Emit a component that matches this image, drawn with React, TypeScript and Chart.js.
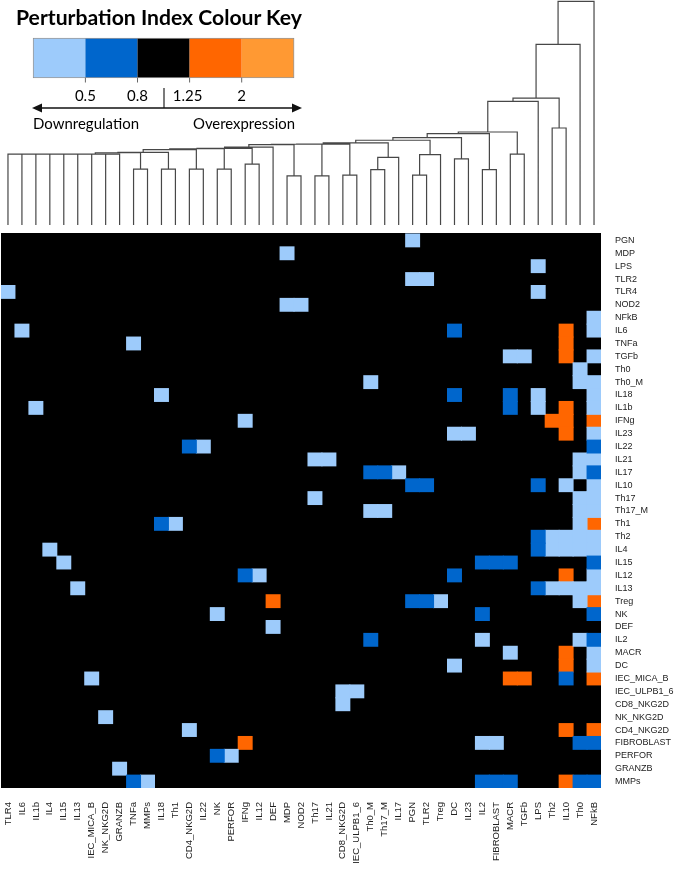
import React, { useEffect, useRef } from "react";
import { Chart, registerables } from "chart.js";

Chart.register(...registerables);

// ---------- DATA ----------
const colLabels: string[] = [
  "TLR4", "IL6", "IL1b", "IL4", "IL15", "IL13", "IEC_MICA_B", "NK_NKG2D", "GRANZB", "TNFa", "MMPs",
  "IL18", "Th1", "CD4_NKG2D", "IL22", "NK", "PERFOR", "IFNg", "IL12", "DEF", "MDP", "NOD2", "Th17",
  "IL21", "CD8_NKG2D", "IEC_ULPB1_6", "Th0_M", "Th17_M", "IL17", "PGN", "TLR2", "Treg", "DC", "IL23",
  "IL2", "FIBROBLAST", "MACR", "TGFb", "LPS", "Th2", "IL10", "Th0", "NFkB",
];

const rowLabels: string[] = [
  "PGN", "MDP", "LPS", "TLR2", "TLR4", "NOD2", "NFkB", "IL6", "TNFa", "TGFb", "Th0", "Th0_M", "IL18",
  "IL1b", "IFNg", "IL23", "IL22", "IL21", "IL17", "IL10", "Th17", "Th17_M", "Th1", "Th2", "IL4", "IL15",
  "IL12", "IL13", "Treg", "NK", "DEF", "IL2", "MACR", "DC", "IEC_MICA_B", "IEC_ULPB1_6", "CD8_NKG2D",
  "NK_NKG2D", "CD4_NKG2D", "FIBROBLAST", "PERFOR", "GRANZB", "MMPs",
];

// [row, column] cells with Perturbation Index 0.5 - 0.8 (light blue)
const lightBlueCells: [string, string][] = [
  ["PGN", "PGN"], ["MDP", "MDP"], ["LPS", "LPS"], ["TLR2", "PGN"], ["TLR2", "TLR2"], ["TLR4", "TLR4"],
  ["TLR4", "LPS"], ["NOD2", "MDP"], ["NOD2", "NOD2"], ["NFkB", "NFkB"], ["IL6", "IL6"], ["IL6", "NFkB"],
  ["TNFa", "TNFa"], ["TGFb", "MACR"], ["TGFb", "TGFb"], ["TGFb", "NFkB"], ["Th0", "Th0"],
  ["Th0_M", "Th0_M"], ["Th0_M", "Th0"], ["Th0_M", "NFkB"], ["IL18", "IL18"], ["IL18", "LPS"],
  ["IL18", "NFkB"], ["IL1b", "IL1b"], ["IL1b", "LPS"], ["IL1b", "NFkB"], ["IFNg", "IFNg"],
  ["IL23", "DC"], ["IL23", "IL23"], ["IL23", "NFkB"], ["IL22", "IL22"], ["IL21", "Th17"],
  ["IL21", "IL21"], ["IL21", "Th0"], ["IL21", "NFkB"], ["IL17", "IL17"], ["IL17", "Th0"],
  ["IL10", "IL10"], ["IL10", "NFkB"], ["Th17", "Th17"], ["Th17", "Th0"], ["Th17", "NFkB"],
  ["Th17_M", "Th0_M"], ["Th17_M", "Th17_M"], ["Th17_M", "Th0"], ["Th17_M", "NFkB"], ["Th1", "Th1"],
  ["Th1", "Th0"], ["Th2", "Th2"], ["Th2", "IL10"], ["Th2", "Th0"], ["Th2", "NFkB"], ["IL4", "IL4"],
  ["IL4", "Th2"], ["IL4", "IL10"], ["IL4", "Th0"], ["IL4", "NFkB"], ["IL15", "IL15"], ["IL12", "IL12"],
  ["IL12", "NFkB"], ["IL13", "IL13"], ["IL13", "Th2"], ["IL13", "IL10"], ["IL13", "Th0"],
  ["IL13", "NFkB"], ["Treg", "Treg"], ["Treg", "Th0"], ["NK", "NK"], ["DEF", "DEF"], ["IL2", "IL2"],
  ["IL2", "Th0"], ["MACR", "MACR"], ["MACR", "NFkB"], ["DC", "DC"], ["DC", "NFkB"],
  ["IEC_MICA_B", "IEC_MICA_B"], ["IEC_ULPB1_6", "CD8_NKG2D"], ["IEC_ULPB1_6", "IEC_ULPB1_6"],
  ["CD8_NKG2D", "CD8_NKG2D"], ["NK_NKG2D", "NK_NKG2D"], ["CD4_NKG2D", "CD4_NKG2D"],
  ["FIBROBLAST", "IL2"], ["FIBROBLAST", "FIBROBLAST"], ["PERFOR", "PERFOR"], ["GRANZB", "GRANZB"],
  ["MMPs", "MMPs"],
];

// [row, column] cells with Perturbation Index < 0.5 (dark blue)
const darkBlueCells: [string, string][] = [
  ["IL6", "DC"], ["IL18", "DC"], ["IL18", "MACR"], ["IL1b", "MACR"], ["IL22", "CD4_NKG2D"],
  ["IL22", "NFkB"], ["IL17", "Th0_M"], ["IL17", "Th17_M"], ["IL17", "NFkB"], ["IL10", "PGN"],
  ["IL10", "TLR2"], ["IL10", "LPS"], ["Th1", "IL18"], ["Th2", "LPS"], ["IL4", "LPS"], ["IL15", "IL2"],
  ["IL15", "FIBROBLAST"], ["IL15", "MACR"], ["IL15", "NFkB"], ["IL12", "IFNg"], ["IL12", "DC"],
  ["IL13", "LPS"], ["Treg", "PGN"], ["Treg", "TLR2"], ["NK", "IL2"], ["NK", "NFkB"], ["IL2", "Th0_M"],
  ["IL2", "NFkB"], ["IEC_MICA_B", "IL10"], ["FIBROBLAST", "Th0"], ["FIBROBLAST", "NFkB"],
  ["PERFOR", "NK"], ["MMPs", "TNFa"], ["MMPs", "IL2"], ["MMPs", "FIBROBLAST"], ["MMPs", "MACR"],
  ["MMPs", "Th0"], ["MMPs", "NFkB"],
];

// [row, column] cells with Perturbation Index 1.25 - 2 (orange)
const orangeCells: [string, string][] = [
  ["IL6", "IL10"], ["TNFa", "IL10"], ["TGFb", "IL10"], ["IL1b", "IL10"], ["IFNg", "Th2"],
  ["IFNg", "IL10"], ["IFNg", "NFkB"], ["IL23", "IL10"], ["Th1", "NFkB"], ["IL12", "IL10"],
  ["Treg", "DEF"], ["Treg", "NFkB"], ["MACR", "IL10"], ["DC", "IL10"], ["IEC_MICA_B", "MACR"],
  ["IEC_MICA_B", "TGFb"], ["IEC_MICA_B", "NFkB"], ["CD4_NKG2D", "IL10"], ["CD4_NKG2D", "NFkB"],
  ["FIBROBLAST", "IFNg"], ["MMPs", "IL10"],
];

// Column dendrogram, hclust-style merges: [a, b, height]; negative = leaf (1-based column), positive = earlier merge
const dendroMerges: [number, number, number][] = [
  [-1, -2, 0.3165], [1, -3, 0.3165], [2, -4, 0.3165], [3, -5, 0.3165], [4, -6, 0.3165],
  [5, -7, 0.3165], [-8, -9, 0.3165], [6, 7, 0.3165],
  [-10, -11, 0.2497], [-12, -13, 0.2497], [-14, -15, 0.2497], [-16, -17, 0.2497], [-18, -19, 0.272],
  [-21, -22, 0.2198], [-23, -24, 0.2198], [-25, -26, 0.223], [-27, -28, 0.248], [17, -29, 0.302],
  [-30, -31, 0.223], [19, -32, 0.315], [-33, -34, 0.2956], [-35, -36, 0.248], [-37, -38, 0.3165],
  [-40, -41, 0.4338],
  [8, 9, 0.323], [25, 10, 0.325], [26, 11, 0.337], [27, 12, 0.341], [28, 13, 0.343], [29, -20, 0.348],
  [30, 14, 0.359], [31, 15, 0.361], [32, 16, 0.362], [33, 18, 0.367], [34, 20, 0.379], [35, 21, 0.391],
  [36, 22, 0.409], [37, 23, 0.416], [38, -39, 0.553], [39, 24, 0.5675], [40, -42, 0.808], [41, -43, 1.0],
];

const keyColours = ["#9dcbfb", "#0066cc", "#000000", "#ff6600", "#ff9933"];
const keyTicks = ["0.5", "0.8", "1.25", "2"];

// ---------- helpers ----------
const nRows = rowLabels.length;
const toBars = (cells: [string, string][]) =>
  cells.map(([r, c]) => {
    const ri = rowLabels.indexOf(r);
    return { x: c, y: [nRows - 1 - ri, nRows - ri] };
  });

function buildDendro() {
  const nodeX: number[] = [];
  const nodeH: number[] = [];
  const pts: { x: number; y: number | null }[] = [];
  const pos = (id: number) => (id < 0 ? { x: -id - 1, h: 0 } : { x: nodeX[id - 1], h: nodeH[id - 1] });
  dendroMerges.forEach(([a, b, h], i) => {
    const A = pos(a);
    const B = pos(b);
    pts.push({ x: A.x, y: A.h }, { x: A.x, y: h }, { x: B.x, y: h }, { x: B.x, y: B.h }, { x: B.x, y: null });
    nodeX[i] = (A.x + B.x) / 2;
    nodeH[i] = h;
  });
  return pts;
}

const barCommon = {
  type: "bar" as const,
  barPercentage: 1,
  categoryPercentage: 1,
  grouped: false,
  borderWidth: 0,
  inflateAmount: 0.5,
  xAxisID: "x",
  yAxisID: "y",
};

const fontFamily = "'Liberation Sans', Arial, sans-serif";

export default function App() {
  const ref = useRef<HTMLCanvasElement | null>(null);

  useEffect(() => {
    if (!ref.current) return;
    const chart = new Chart(ref.current, {
      type: "bar",
      data: {
        labels: colLabels,
        datasets: [
          {
            type: "line",
            label: "dendrogram",
            data: buildDendro(),
            xAxisID: "xd",
            yAxisID: "yd",
            borderColor: "#474747",
            borderWidth: 1.2,
            pointRadius: 0,
            spanGaps: false,
            tension: 0,
            clip: false,
            order: 0,
          } as any,
          { ...barCommon, label: "PI < 0.5", data: toBars(darkBlueCells), backgroundColor: keyColours[1], order: 1 } as any,
          { ...barCommon, label: "PI 0.5-0.8", data: toBars(lightBlueCells), backgroundColor: keyColours[0], order: 1 } as any,
          { ...barCommon, label: "PI 1.25-2", data: toBars(orangeCells), backgroundColor: keyColours[3], order: 1 } as any,
          {
            ...barCommon,
            label: "PI 0.8-1.25",
            data: colLabels.map((c) => ({ x: c, y: [0, nRows] })),
            backgroundColor: keyColours[2],
            inflateAmount: 1,
            order: 3,
          } as any,
        ],
      },
      options: {
        animation: false,
        responsive: false,
        devicePixelRatio: 1,
        layout: { padding: { top: 1, left: 1, right: 0, bottom: 0 } },
        plugins: { legend: { display: false }, tooltip: { enabled: false } },
        scales: {
          x: {
            type: "category",
            offset: true,
            grid: { display: false, drawTicks: false },
            border: { display: false },
            ticks: {
              autoSkip: false,
              minRotation: 90,
              maxRotation: 90,
              padding: 14,
              color: "#222",
              font: { family: fontFamily, size: 9.5 },
            },
            afterFit: (s: any) => {
              s.height = 86;
              s.paddingLeft = 0;
              s.paddingRight = 0;
            },
          },
          y: {
            type: "linear",
            position: "right",
            min: 0,
            max: 61.08,
            grid: { display: false, drawTicks: false },
            border: { display: false },
            afterBuildTicks: (s: any) => {
              s.ticks = rowLabels.map((_, i) => ({ value: nRows - i - 0.5 }));
            },
            ticks: {
              autoSkip: false,
              padding: 14,
              color: "#222",
              font: { family: fontFamily, size: 9 },
              callback: (_v: any, i: number) => rowLabels[i],
            },
            afterFit: (s: any) => {
              s.width = 74;
              s.paddingTop = 0;
              s.paddingBottom = 0;
            },
          },
          xd: { type: "linear", display: false, offset: false, min: -0.5, max: 42.5 },
          yd: { type: "linear", display: false, offset: false, beginAtZero: false, min: -2.519, max: 1.002 },
        },
      } as any,
    });
    return () => chart.destroy();
  }, []);

  const keyX0 = 33.3;
  const segW = 52.1;
  const font = "Lato, 'Open Sans', sans-serif";

  return (
    <div style={{ position: "absolute", left: 0, top: 0, width: 675, height: 874, background: "#fff" }}>
      <canvas ref={ref} width={675} height={874} style={{ display: "block", width: 675, height: 874 }} />
      <svg width={320} height={140} style={{ position: "absolute", left: 0, top: 0 }}>
        <text x={16} y={25} fontFamily={font} fontWeight="bold" fontSize={21} fill="#000" textLength={286} lengthAdjust="spacingAndGlyphs">
          Perturbation Index Colour Key
        </text>
        {keyColours.map((c, i) => (
          <rect key={i} x={keyX0 + i * segW} y={38.3} width={segW} height={39.4} fill={c} />
        ))}
        <rect x={keyX0} y={38.3} width={segW * 5} height={39.4} fill="none" stroke="#8a8a8a" strokeWidth={0.7} />
        {keyTicks.map((t, i) => {
          const tx = keyX0 + (i + 1) * segW;
          return (
            <g key={t}>
              <line x1={tx} y1={77.7} x2={tx} y2={82.5} stroke="#666" strokeWidth={1} />
              <text x={i === 2 ? tx - 2 : tx} y={101} fontFamily={font} fontSize={15} textAnchor="middle" fill="#000">
                {t}
              </text>
            </g>
          );
        })}
        <line x1={164} y1={88} x2={164} y2={108} stroke="#222" strokeWidth={1.2} />
        <line x1={40} y1={108} x2={294} y2={108} stroke="#111" strokeWidth={1.6} />
        <polygon points="32,108 42,103.5 42,112.5" fill="#111" />
        <polygon points="302,108 292,103.5 292,112.5" fill="#111" />
        <text x={33} y={129} fontFamily={font} fontSize={16} fill="#000" textLength={106} lengthAdjust="spacingAndGlyphs">
          Downregulation
        </text>
        <text x={193} y={129} fontFamily={font} fontSize={16} fill="#000" textLength={102} lengthAdjust="spacingAndGlyphs">
          Overexpression
        </text>
      </svg>
    </div>
  );
}
